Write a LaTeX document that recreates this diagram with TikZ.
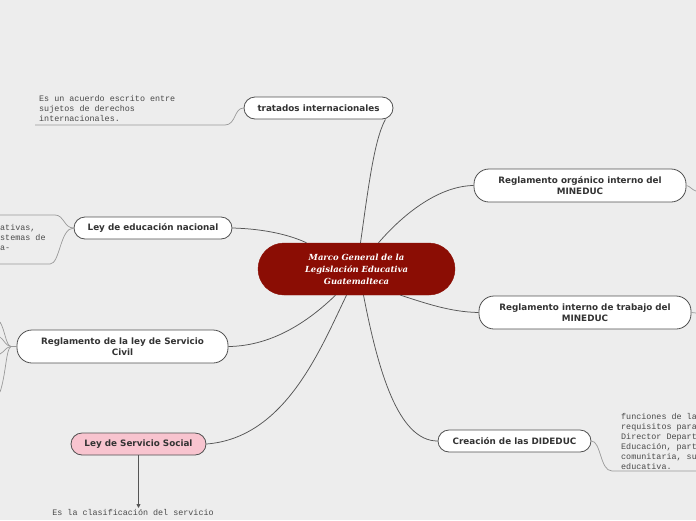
\documentclass[tikz,border=0pt]{standalone}
\usepackage{fontspec}
\newfontfamily\topicfont{DejaVu Sans}
\newfontfamily\centerfont{DejaVu Serif}
\newfontfamily\notefont{Liberation Mono}
\usetikzlibrary{arrows.meta}
\definecolor{bg}{HTML}{EDEDED}
\definecolor{bordergray}{HTML}{505050}
\definecolor{linegray}{HTML}{555555}
\definecolor{notegray}{HTML}{9A9A9A}
\definecolor{centerred}{HTML}{8B0D04}
\definecolor{pinkfill}{HTML}{F8C4CF}
\definecolor{notetext}{HTML}{4A4A4A}
\tikzset{
  topic/.style={draw=bordergray, line width=0.8pt, fill=white, align=center,
    inner sep=0pt, font=\topicfont\bfseries\fontsize{8.8}{11}\selectfont, text=black!80},
  small/.style={topic, minimum height=22pt, rounded corners=11pt},
  tall/.style={topic, minimum height=33pt, rounded corners=15pt},
  central/.style={fill=centerred, draw=centerred, rounded corners=26pt, minimum width=197pt,
    minimum height=52pt, align=center, text=white,
    font=\centerfont\bfseries\itshape\fontsize{8.4}{12}\selectfont},
  note/.style={align=left, inner sep=0pt, text=notetext,
    font=\notefont\fontsize{8.4}{10}\selectfont},
  link/.style={draw=linegray, line width=0.75pt},
  notelink/.style={draw=notegray, line width=0.7pt}
}
\begin{document}
\begin{tikzpicture}[x=1pt,y=-1pt]
\fill[bg] (0,0) rectangle (696,520);
\useasboundingbox (0,0) rectangle (696,520);
\clip (0,0) rectangle (696,520);

% nodes
\node[central] (ctr) at (356.5,269) {Marco General de la\\Legislación Educativa\\Guatemalteca};
\node[small, minimum width=149pt] (trat) at (318.5,108) {tratados internacionales};
\node[tall, minimum width=212pt] (org) at (580,185.5) {Reglamento orgánico interno del\\MINEDUC};
\node[tall, minimum width=212pt] (int) at (585,312.5) {Reglamento interno de trabajo del\\MINEDUC};
\node[small, minimum width=158pt] (ley) at (153,228) {Ley de educación nacional};
\node[tall, minimum width=211pt] (sc) at (122.5,346.5) {Reglamento de la ley de Servicio\\Civil};
\node[small, minimum width=135pt, fill=pinkfill] (ss) at (138.5,444) {Ley de Servicio Social};
\node[small, minimum width=153pt] (cre) at (514.5,441) {Creación de las DIDEDUC};

% notes
\node[note, anchor=north west] (ntrat) at (39,95) {Es un acuerdo escrito entre\\sujetos de derechos\\internacionales.};
\node[note, anchor=north west] (nley) at (0,224) {ativas,\\stemas de\\a-};
\node[note, anchor=north] (nss) at (133,509) {Es la clasificación del servicio};
\node[note, anchor=north west] (ncre) at (621,413.5) {funciones de la\\requisitos para\\Director Depart\\Educación, part\\comunitaria, su\\educativa.};

% main connectors
\draw[link] ([xshift=4pt]ctr.north) .. controls (368,190) and (374,140) .. ([xshift=-8pt]trat.south east);
\draw[link] ([xshift=22pt]ctr.north) .. controls (405,212) and (440,186) .. (org.west);
\draw[link] ([xshift=44pt]ctr.south) .. controls (425,303) and (450,312) .. (int.west);
\draw[link] ([xshift=7pt]ctr.south) .. controls (378,370) and (398,441) .. (cre.west);
\draw[link] (ley.east) .. controls (268,229) and (292,236) .. ([xshift=-50pt]ctr.north);
\draw[link] (sc.east) .. controls (275,346) and (312,318) .. ([xshift=-21pt]ctr.south);
\draw[link] (ss.east) .. controls (285,438) and (320,350) .. ([xshift=-10pt]ctr.south);

% note connectors
\coordinate (t1) at (225,125);
\coordinate (t2) at (35,125);
\draw[notelink] (trat.west) .. controls (234,108) and (236,125) .. (t1) -- (t2);
\coordinate (l1) at (55,215);
\coordinate (l2) at (0,215);
\coordinate (l3) at (50,264);
\coordinate (l4) at (0,264);
\draw[notelink] (ley.west) .. controls (64,228) and (64,215) .. (l1) -- (l2);
\draw[notelink] (ley.west) .. controls (60,228) and (60,264) .. (l3) -- (l4);
\coordinate (s0) at (11,346.5);
\coordinate (s1) at (0,322);
\coordinate (s2) at (0,337);
\coordinate (s3) at (0,354);
\coordinate (s4) at (0,392);
\draw[notelink] (sc.west) -- (s0);
\draw[notelink] (s0) .. controls (6,346) and (5,330) .. (s1);
\draw[notelink] (s0) .. controls (6,346) and (4,340) .. (s2);
\draw[notelink] (s0) .. controls (6,347) and (4,352) .. (s3);
\draw[notelink] (s0) .. controls (6,348) and (6,375) .. (s4);
\coordinate (o1) at (696,191);
\draw[notelink] (org.east) .. controls (690,186) and (692,190) .. (o1);
\coordinate (i1) at (696,313);
\draw[notelink] (int.east) -- (i1);
\coordinate (c1) at (612,471);
\coordinate (c2) at (696,471);
\draw[notelink] (cre.east) .. controls (601,441) and (600,471) .. (c1) -- (c2);
\draw[linegray, line width=0.8pt, -{Triangle[length=4pt,width=4pt]}] (ss.south) -- ([yshift=1pt]ss.south |- nss.north);
\end{tikzpicture}
\end{document}
